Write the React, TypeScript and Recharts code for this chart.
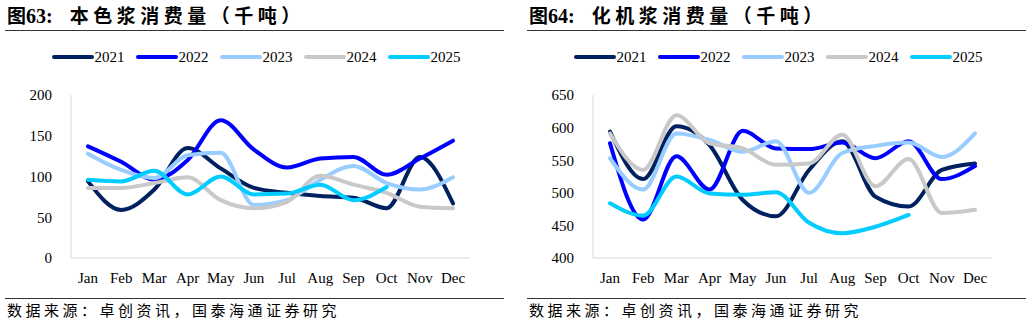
import React from "react";
import { LineChart, Line, XAxis, YAxis, Legend } from "recharts";

const months = ["Jan", "Feb", "Mar", "Apr", "May", "Jun", "Jul", "Aug", "Sep", "Oct", "Nov", "Dec"];
const years = ["2021", "2022", "2023", "2024", "2025"];
const yearColors = ["#002060", "#0000FF", "#99CCFF", "#C9C9C9", "#00CCFF"];

// 本色浆消费量（千吨）
const unbleached2021 = [94, 59, 84, 135, 110, 86, 80, 76, 74, 61, 124, 67];
const unbleached2022 = [137, 118, 96, 120, 169, 133, 111, 122, 124, 102, 122, 144];
const unbleached2023 = [128, 108, 98, 126, 129, 65, 71, 96, 113, 92, 84, 99];
const unbleached2024 = [86, 86, 92, 99, 71, 61, 69, 101, 90, 80, 63, 61];
const unbleached2025 = [96, 94, 107, 78, 100, 78, 79, 90, 71, 87];
const unbleachedTicks = [0, 50, 100, 150, 200];

// 化机浆消费量（千吨）
const ctmp2021 = [594, 521, 602, 573, 489, 464, 535, 579, 494, 479, 535, 545];
const ctmp2022 = [576, 459, 556, 505, 595, 568, 567, 577, 553, 579, 521, 541];
const ctmp2023 = [553, 505, 591, 581, 563, 579, 500, 561, 572, 577, 555, 591];
const ctmp2024 = [591, 535, 619, 576, 568, 543, 545, 589, 510, 552, 469, 474];
const ctmp2025 = [484, 465, 525, 499, 497, 501, 454, 438, 448, 466];
const ctmpTicks = [400, 450, 500, 550, 600, 650];

const buildRows = (series: number[][]) =>
  months.map((m, i) => {
    const row: Record<string, string | number | undefined> = { month: m };
    years.forEach((y, k) => {
      row[y] = series[k][i];
    });
    return row;
  });

const unbleachedRows = buildRows([unbleached2021, unbleached2022, unbleached2023, unbleached2024, unbleached2025]);
const ctmpRows = buildRows([ctmp2021, ctmp2022, ctmp2023, ctmp2024, ctmp2025]);

const serif = "Liberation Serif";
const cjk = "Noto Sans CJK SC";
const tickStyle = { fontSize: 15, fill: "#000", fontFamily: serif };

const renderLegend = (props: any) => (
  <div style={{ display: "flex", justifyContent: "center", alignItems: "center" }}>
    {props.payload.map((entry: any, i: number) => (
      <div key={entry.value} style={{ display: "flex", alignItems: "center", marginLeft: i === 0 ? 0 : 11 }}>
        <span style={{ width: 42, height: 4, borderRadius: 2, background: entry.color, display: "inline-block" }} />
        <span style={{ marginLeft: 1, fontFamily: serif, fontSize: 15, color: "#000", lineHeight: "18px" }}>
          {entry.value}
        </span>
      </div>
    ))}
  </div>
);

const Panel = ({ x, num, name, rows, domain, ticks, mLeft, mRight, inset, legendShift }) => (
  <div style={{ position: "absolute", left: x, top: 0, width: 516, height: 326 }}>
    <div style={{ position: "absolute", left: inset + 2, top: 4, whiteSpace: "nowrap", lineHeight: "22px", color: "#000" }}>
      <span style={{ fontFamily: cjk, fontWeight: 700, fontSize: 19 }}>图</span>
      <span style={{ fontFamily: serif, fontWeight: 700, fontSize: 20 }}>{num}:</span>
      <span style={{ fontFamily: cjk, fontWeight: 700, fontSize: 19, letterSpacing: 4.5, marginLeft: 17 }}>{name}</span>
    </div>
    <div style={{ position: "absolute", left: inset, top: 30, width: 499, height: 1, background: "#333" }} />
    <div style={{ position: "absolute", left: 0, top: 40 }}>
      <LineChart width={516} height={252} data={rows} margin={{ top: 37, right: mRight, left: mLeft, bottom: 4 }}>
        <XAxis
          dataKey="month"
          axisLine={{ stroke: "#D9D9D9" }}
          tickLine={false}
          tickMargin={8}
          height={30}
          padding={{ left: 17, right: 17 }}
          interval={0}
          tick={tickStyle}
        />
        <YAxis
          domain={domain}
          ticks={ticks}
          axisLine={{ stroke: "#D9D9D9" }}
          tickLine={false}
          tickMargin={13}
          width={60}
          interval={0}
          tick={tickStyle}
        />
        <Legend
          verticalAlign="top"
          content={renderLegend}
          wrapperStyle={{ top: 8, left: legendShift, width: 516, height: 18 }}
        />
        {years.map((y, k) => (
          <Line
            key={y}
            dataKey={y}
            type="monotone"
            stroke={yearColors[k]}
            strokeWidth={4}
            strokeLinecap="round"
            dot={false}
            activeDot={false}
            isAnimationActive={false}
          />
        ))}
      </LineChart>
    </div>
    <div style={{ position: "absolute", left: inset, top: 298, width: 499, height: 1, background: "#333" }} />
    <div
      style={{
        position: "absolute",
        left: inset + 2,
        top: 300,
        fontFamily: cjk,
        fontSize: 15,
        letterSpacing: 3.5,
        lineHeight: "20px",
        whiteSpace: "nowrap",
        color: "#000",
      }}
    >
      数据来源：卓创资讯，国泰海通证券研究
    </div>
  </div>
);

export default function App() {
  return (
    <div style={{ position: "absolute", left: 0, top: 0, width: 1032, height: 326, background: "#fff" }}>
      <Panel x={0} num="63" name="本色浆消费量（千吨）" rows={unbleachedRows} domain={[0, 200]} ticks={unbleachedTicks} mLeft={11} mRight={46} inset={5} legendShift={-2} />
      <Panel x={516} num="64" name="化机浆消费量（千吨）" rows={ctmpRows} domain={[400, 650]} ticks={ctmpTicks} mLeft={17} mRight={40} inset={11} legendShift={4} />
    </div>
  );
}
